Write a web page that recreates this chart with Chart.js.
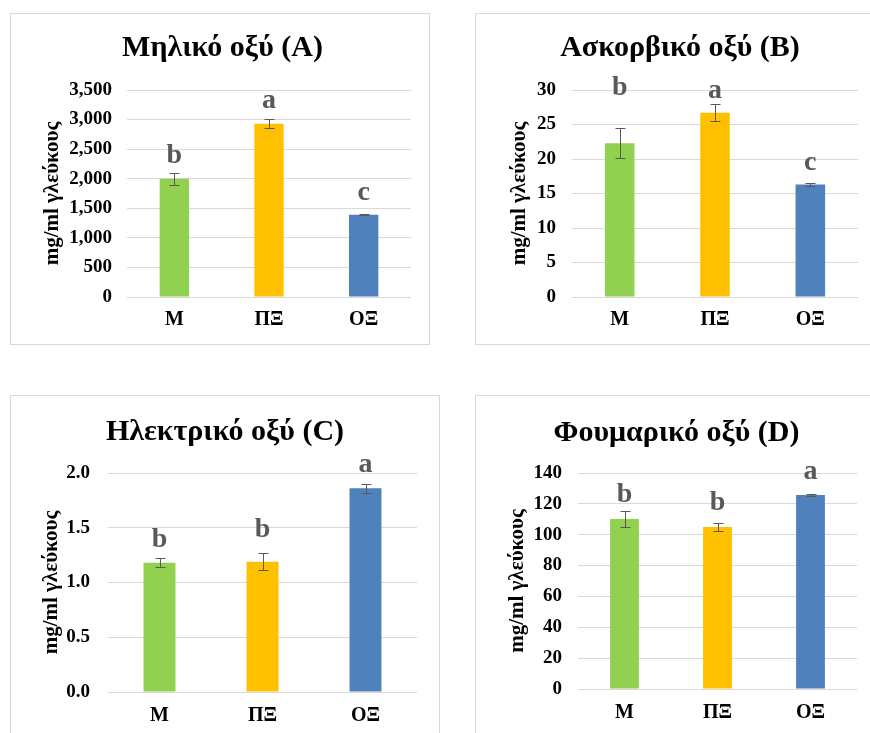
<!DOCTYPE html>
<html>
<head>
<meta charset="utf-8">
<script src="https://cdn.jsdelivr.net/npm/chart.js@4.4.1/dist/chart.umd.min.js"></script>
<style>
  body { margin: 0; background: #fff; width: 870px; height: 733px; overflow: hidden; position: relative; }
  .panel { position: absolute; background: #fff; box-shadow: inset 0 0 0 1px #d9d9d9; }
  .panel canvas { position: absolute; left: 0; top: 0; }
</style>
</head>
<body>
<div class="panel" style="left:10px;top:13px;width:420px;height:332px"><canvas id="chartA" width="420" height="332"></canvas></div>
<div class="panel" style="left:475px;top:13px;width:400px;height:332px"><canvas id="chartB" width="400" height="332"></canvas></div>
<div class="panel" style="left:10px;top:395px;width:430px;height:350px"><canvas id="chartC" width="430" height="350"></canvas></div>
<div class="panel" style="left:475px;top:395px;width:400px;height:350px"><canvas id="chartD" width="400" height="350"></canvas></div>
<script>
// categories (treatments)
const categories = ['Μ', 'ΠΞ', 'ΟΞ'];
const barColors = ['#92D050', '#FFC000', '#4F81BD'];
const yTitle = 'mg/ml γλεύκους';

// Μηλικό οξύ (A)
const malicMeans = [2000, 2930, 1390];
const malicErrors = [100, 75, 10];
const malicLetters = ['b', 'a', 'c'];
const malicLetterAt = [2266, 3196, 1640];
const malicTicks = ['0', '500', '1,000', '1,500', '2,000', '2,500', '3,000', '3,500'];

// Ασκορβικό οξύ (B)
const ascorbicMeans = [22.3, 26.7, 16.3];
const ascorbicErrors = [2.2, 1.2, 0.2];
const ascorbicLetters = ['b', 'a', 'c'];
const ascorbicLetterAt = [29.3, 28.8, 18.4];
const ascorbicTicks = ['0', '5', '10', '15', '20', '25', '30'];

// Ηλεκτρικό οξύ (C)
const succinicMeans = [1.18, 1.19, 1.86];
const succinicErrors = [0.04, 0.08, 0.04];
const succinicLetters = ['b', 'b', 'a'];
const succinicLetterAt = [1.32, 1.42, 2.01];
const succinicTicks = ['0.0', '0.5', '1.0', '1.5', '2.0'];

// Φουμαρικό οξύ (D)
const fumaricMeans = [110.2, 105, 125.7];
const fumaricErrors = [5, 2.3, 0.5];
const fumaricLetters = ['b', 'b', 'a'];
const fumaricLetterAt = [121.2, 116, 136];
const fumaricTicks = ['0', '20', '40', '60', '80', '100', '120', '140'];

const serif = '"Liberation Serif", "Times New Roman", serif';

// error bars + significance letters
const errorBarsPlugin = {
  id: 'errorBars',
  afterDatasetsDraw(chart, args, opts) {
    const ctx = chart.ctx;
    const y = chart.scales.y;
    const values = chart.data.datasets[0].data;
    ctx.save();
    chart.getDatasetMeta(0).data.forEach((bar, i) => {
      const x = Math.round(bar.x) + 0.5;
      const top = Math.round(y.getPixelForValue(values[i] + opts.errors[i])) + 0.5;
      const bot = Math.round(y.getPixelForValue(values[i] - opts.errors[i])) + 0.5;
      ctx.strokeStyle = '#595959';
      ctx.lineWidth = 1;
      ctx.beginPath();
      ctx.moveTo(x, top); ctx.lineTo(x, bot);
      ctx.moveTo(x - 5, top); ctx.lineTo(x + 5, top);
      ctx.moveTo(x - 5, bot); ctx.lineTo(x + 5, bot);
      ctx.stroke();

      ctx.font = 'bold 28px ' + serif;
      ctx.fillStyle = '#595959';
      ctx.textAlign = 'center';
      ctx.textBaseline = 'alphabetic';
      ctx.fillText(opts.letters[i], bar.x, y.getPixelForValue(opts.letterAt[i]));
    });
    ctx.restore();
  }
};

function makeChart(id, title, means, errors, letters, letterAt, tickLabels, max, step, lay) {
  return new Chart(document.getElementById(id), {
    type: 'bar',
    data: {
      labels: categories,
      datasets: [{
        data: means,
        backgroundColor: barColors,
        barPercentage: 0.31,
        categoryPercentage: 1
      }]
    },
    plugins: [errorBarsPlugin],
    options: {
      responsive: false,
      animation: false,
      layout: { padding: { left: lay.left, right: lay.right, top: 0, bottom: 0 } },
      plugins: {
        legend: { display: false },
        tooltip: { enabled: false },
        title: {
          display: true,
          text: title,
          color: '#000',
          font: { family: serif, size: 30, weight: 'bold', lineHeight: 1.2 },
          padding: { top: lay.titleTop, bottom: lay.titleBottom }
        },
        errorBars: { errors: errors, letters: letters, letterAt: letterAt }
      },
      scales: {
        x: {
          grid: { display: false, drawTicks: false },
          border: { display: false },
          ticks: { color: '#000', font: { family: serif, size: 20, weight: 'bold' }, padding: lay.xPad },
          afterFit: s => { s.height = lay.xHeight; }
        },
        y: {
          min: 0,
          max: max,
          ticks: {
            stepSize: step,
            color: '#000',
            padding: lay.yPad,
            font: { family: serif, size: 19, weight: 'bold' },
            callback: (v, i) => tickLabels[i]
          },
          grid: { color: '#d9d9d9', drawTicks: false },
          border: { display: false },
          title: {
            display: true,
            text: yTitle,
            color: '#000',
            font: { family: serif, size: 21, weight: 'bold' },
            padding: { top: lay.yTitlePad, bottom: 0 }
          },
          afterFit: s => { s.width = lay.yWidth; }
        }
      }
    }
  });
}

makeChart('chartA', 'Μηλικό οξύ (A)', malicMeans, malicErrors, malicLetters, malicLetterAt, malicTicks, 3500, 500,
  { left: 24, right: 19, titleTop: 17, titleBottom: 24, xPad: 11, xHeight: 48, yPad: 15, yWidth: 93, yTitlePad: 6 });
makeChart('chartB', 'Ασκορβικό οξύ (B)', ascorbicMeans, ascorbicErrors, ascorbicLetters, ascorbicLetterAt, ascorbicTicks, 30, 5,
  { left: 27, right: 17, titleTop: 17, titleBottom: 24, xPad: 11, xHeight: 48, yPad: 16, yWidth: 70, yTitlePad: 5 });
makeChart('chartC', 'Ηλεκτρικό οξύ (C)', succinicMeans, succinicErrors, succinicLetters, succinicLetterAt, succinicTicks, 2, 0.5,
  { left: 23, right: 23, titleTop: 19, titleBottom: 23, xPad: 12, xHeight: 53, yPad: 18, yWidth: 75, yTitlePad: 6 });
makeChart('chartD', 'Φουμαρικό οξύ (D)', fumaricMeans, fumaricErrors, fumaricLetters, fumaricLetterAt, fumaricTicks, 140, 20,
  { left: 21, right: 18, titleTop: 20, titleBottom: 22, xPad: 12, xHeight: 56, yPad: 16, yWidth: 82, yTitlePad: 9 });
</script>
</body>
</html>
